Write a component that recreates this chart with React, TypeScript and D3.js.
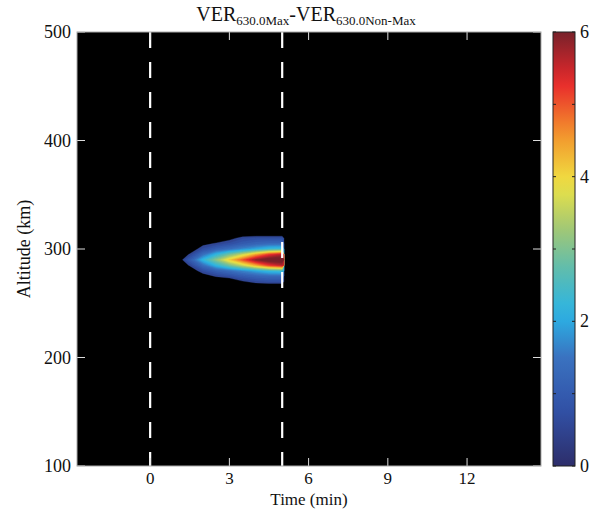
import React from "react";
import * as d3 from "d3";

// ---- data ----
const times = [1.0, 1.5, 2.0, 2.5, 3.0, 3.5, 4.0, 4.5, 5.0]; // min
const altitudes = [265, 270, 275, 280, 285, 290, 295, 300, 305, 310, 315]; // km
// VER difference, rows = altitudes, cols = times
const verDiff = [
  [0, 0, 0, 0, 0, 0, 0, 0, 0],
  [0, 0, 0, 0, 0, 0.4, 0.6, 0.7, 0.7],
  [0, 0, 0.2, 0.5, 0.7, 1.0, 1.2, 1.3, 1.3],
  [0, 0.1, 0.7, 1.1, 1.4, 1.7, 2.0, 2.3, 2.4],
  [0, 0.5, 1.4, 2.2, 2.9, 3.6, 4.4, 5.2, 5.6],
  [0, 1.0, 2.2, 3.1, 4.1, 5.0, 5.9, 6.3, 6.3],
  [0, 0.5, 1.4, 2.2, 2.9, 3.6, 4.4, 5.2, 5.6],
  [0, 0.1, 0.7, 1.1, 1.4, 1.7, 2.0, 2.3, 2.4],
  [0, 0, 0.3, 0.5, 0.7, 1.0, 1.2, 1.3, 1.3],
  [0, 0, 0, 0.1, 0.3, 0.6, 0.7, 0.7, 0.7],
  [0, 0, 0, 0, 0, 0, 0, 0, 0],
];
const xTicks = [0, 3, 6, 9, 12];
const yTicks = [100, 200, 300, 400, 500];
const cbTicks = [0, 1, 2, 3, 4, 5, 6];
const cbLabels = [0, 2, 4, 6];
const markerTimes = [0, 5];

const colorStops = [
  [0, "#2d2d6a"],
  [0.8, "#3152a8"],
  [1.5, "#3a72c0"],
  [2.1, "#2ab4e6"],
  [2.7, "#5cbcb0"],
  [3.3, "#a4c873"],
  [3.9, "#efe443"],
  [4.6, "#f3922c"],
  [5.3, "#e8282c"],
  [6, "#78212a"],
] as [number, string][];

// ---- layout ----
const W = 602, H = 514;
const L = 77, R = 541, T = 32, B = 466;
const CBX0 = 553, CBX1 = 575;
const FONT = "'Liberation Serif', 'Times New Roman', serif";

export default function App() {
  const x = d3.scaleLinear().domain([-2.77, 14.8]).range([L, R]);
  const y = d3.scaleLinear().domain([100, 500]).range([B, T]);
  const cb = d3.scaleLinear().domain([0, 6]).range([B, T]);
  const color = d3
    .scaleLinear<string>()
    .domain(colorStops.map((d) => d[0]))
    .range(colorStops.map((d) => d[1]))
    .interpolate(d3.interpolateRgb)
    .clamp(true);

  const nx = times.length, ny = altitudes.length;
  const flat: number[] = [];
  for (let j = 0; j < ny; j++) for (let i = 0; i < nx; i++) flat.push(verDiff[j][i]);
  const step = 0.2;
  const thresholds = d3.range(0.45, 6.4, step);
  const contours = d3.contours().size([nx, ny]).thresholds(thresholds)(flat);
  const dt = times[1] - times[0];
  const da = altitudes[1] - altitudes[0];
  const tMin = times[0], tMax = times[nx - 1] + 0.06;
  const aMin = altitudes[0], aMax = altitudes[ny - 1];
  const proj = d3.geoTransform({
    point(px: number, py: number) {
      const t = Math.max(tMin, Math.min(tMax, times[0] + (px - 0.5) * dt));
      const a = Math.max(aMin, Math.min(aMax, altitudes[0] + (py - 0.5) * da));
      (this as any).stream.point(x(t), y(a));
    },
  });
  const path = d3.geoPath(proj);

  const gradStops = d3.range(0, 6.01, 0.25);

  return (
    <svg width={W} height={H} style={{ position: "absolute", left: 0, top: 0, background: "#fff" }}>
      <defs>
        <linearGradient id="cbgrad" x1="0" y1="1" x2="0" y2="0">
          {gradStops.map((v) => (
            <stop key={v} offset={v / 6} stopColor={color(v)} />
          ))}
        </linearGradient>
        <clipPath id="plotclip">
          <rect x={L} y={T} width={R - L} height={B - T} />
        </clipPath>
      </defs>

      {/* plot background */}
      <rect x={L} y={T} width={R - L} height={B - T} fill="#000" />

      <g clipPath="url(#plotclip)">
        {contours.map((c, k) => (
          <path key={k} d={path(c as any) || ""} fill={color(c.value + step / 2)} stroke={color(c.value + step / 2)} strokeWidth={0.3} />
        ))}
        {markerTimes.map((t) => (
          <line key={t} x1={x(t)} x2={x(t)} y1={T} y2={B} stroke="#fff" strokeWidth={2.2} strokeDasharray="16,14" />
        ))}
      </g>

      {/* ticks */}
      {xTicks.map((t) => (
        <g key={t}>
          <line x1={x(t)} x2={x(t)} y1={B} y2={B - 8} stroke="#ddd" strokeWidth={1} />
          <line x1={x(t)} x2={x(t)} y1={T} y2={T + 8} stroke="#ddd" strokeWidth={1} />
          <text x={x(t)} y={484} textAnchor="middle" fontFamily={FONT} fontSize={17} fill="#111">
            {t}
          </text>
        </g>
      ))}
      {yTicks.map((v) => (
        <g key={v}>
          <line x1={L} x2={L + 8} y1={y(v)} y2={y(v)} stroke="#ddd" strokeWidth={1} />
          <line x1={R} x2={R - 8} y1={y(v)} y2={y(v)} stroke="#ddd" strokeWidth={1} />
          <text x={71} y={y(v) + 6} textAnchor="end" fontFamily={FONT} fontSize={18} fill="#111">
            {v}
          </text>
        </g>
      ))}
      <rect x={L} y={T} width={R - L} height={B - T} fill="none" stroke="#aaa" strokeWidth={1} />

      {/* axis titles */}
      <text x={309} y={505} textAnchor="middle" fontFamily={FONT} fontSize={17} fill="#111">
        Time (min)
      </text>
      <text transform={`translate(30,${(T + B) / 2}) rotate(-90)`} textAnchor="middle" fontFamily={FONT} fontSize={18} fill="#111">
        Altitude (km)
      </text>

      {/* title */}
      <text x={306} y={21} textAnchor="middle" fontFamily={FONT} fontSize={20} fill="#111">
        VER<tspan fontSize={13} dy={4}>630.0Max</tspan>
        <tspan dy={-4}>-VER</tspan>
        <tspan fontSize={13} dy={4}>630.0Non-Max</tspan>
      </text>

      {/* colorbar */}
      <rect x={CBX0} y={T} width={CBX1 - CBX0} height={B - T} fill="url(#cbgrad)" stroke="#222" strokeWidth={1} />
      {cbTicks.map((v) => (
        <g key={v}>
          <line x1={CBX0} x2={CBX0 + 3} y1={cb(v)} y2={cb(v)} stroke="#222" strokeWidth={1} />
          <line x1={CBX1} x2={CBX1 - 3} y1={cb(v)} y2={cb(v)} stroke="#222" strokeWidth={1} />
        </g>
      ))}
      {cbLabels.map((v) => (
        <text key={v} x={580} y={cb(v) + 6} fontFamily={FONT} fontSize={18} fill="#111">
          {v}
        </text>
      ))}
    </svg>
  );
}
